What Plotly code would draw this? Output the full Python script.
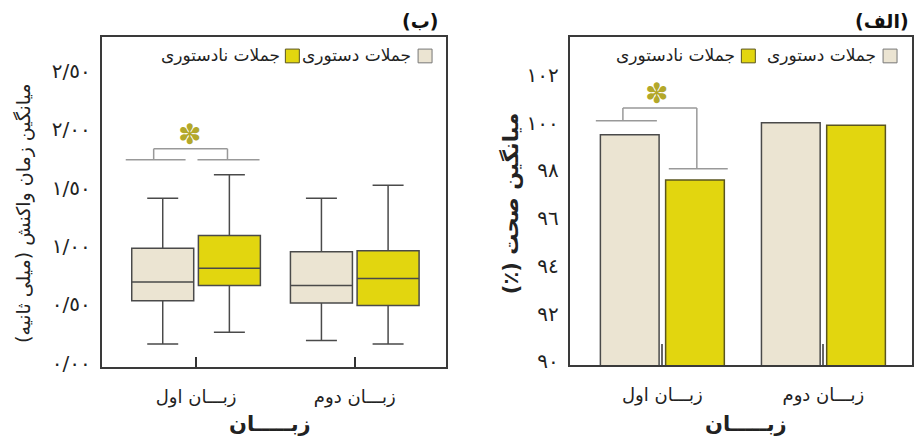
import plotly.graph_objects as go

W, H = 914, 441

# ---------------- data ----------------
categories = ["زبـــان اول", "زبـــان دوم"]
series_names = ["جملات دستوری", "جملات نادستوری"]

# panel (ب): reaction time box plots
rt_gram_q1 = [0.53, 0.51]
rt_gram_median = [0.69, 0.66]
rt_gram_q3 = [0.98, 0.95]
rt_gram_low = [0.16, 0.19]
rt_gram_high = [1.41, 1.41]

rt_ungram_q1 = [0.66, 0.49]
rt_ungram_median = [0.81, 0.72]
rt_ungram_q3 = [1.09, 0.96]
rt_ungram_low = [0.26, 0.16]
rt_ungram_high = [1.61, 1.52]

rt_tickvals = [0.0, 0.5, 1.0, 1.5, 2.0, 2.5]
rt_ticktext = ["٠/٠٠", "٠/٥٠", "١/٠٠", "١/٥٠", "٢/٠٠", "٢/٥٠"]

# panel (الف): accuracy bars
acc_gram = [99.5, 100.0]
acc_ungram = [97.6, 99.9]

acc_tickvals = [90, 92, 94, 96, 98, 100, 102]
acc_ticktext = ["٩٠", "٩٢", "٩٤", "٩٦", "٩٨", "١٠٠", "١٠٢"]

# ---------------- style ----------------
FONT = "DejaVu Sans"
BEIGE = "#ebe4d2"
YELLOW = "#e2d60f"
EDGE = "#4a4a4a"
YEDGE = "#5a5520"
STAR = "#b3a82a"
BRACKET = "#999999"
RLM = "\u200f"


def px(x):
    return x / W


def py(y):
    return 1 - y / H


fig = go.Figure()

# box plots (left panel)
fig.add_trace(go.Box(
    x=categories, q1=rt_gram_q1, median=rt_gram_median, q3=rt_gram_q3,
    lowerfence=rt_gram_low, upperfence=rt_gram_high,
    name=series_names[0], fillcolor=BEIGE, line=dict(color=EDGE, width=1.5),
    whiskerwidth=0.5, boxpoints=False, offsetgroup="a", showlegend=False,
    xaxis="x", yaxis="y"))
fig.add_trace(go.Box(
    x=categories, q1=rt_ungram_q1, median=rt_ungram_median, q3=rt_ungram_q3,
    lowerfence=rt_ungram_low, upperfence=rt_ungram_high,
    name=series_names[1], fillcolor=YELLOW, line=dict(color=EDGE, width=1.5),
    whiskerwidth=0.5, boxpoints=False, offsetgroup="b", showlegend=False,
    xaxis="x", yaxis="y"))

# bars (right panel)
fig.add_trace(go.Bar(
    x=categories, y=acc_gram, name=series_names[0],
    marker=dict(color=BEIGE, line=dict(color=EDGE, width=1.5)),
    offsetgroup="a", showlegend=False, xaxis="x2", yaxis="y2"))
fig.add_trace(go.Bar(
    x=categories, y=acc_ungram, name=series_names[1],
    marker=dict(color=YELLOW, line=dict(color=YEDGE, width=1.5)),
    offsetgroup="b", showlegend=False, xaxis="x2", yaxis="y2"))

axis_line = dict(showline=True, linecolor="#3a3a3a", linewidth=2, mirror=True,
                 showgrid=False, zeroline=False)

fig.update_layout(
    width=W, height=H, autosize=False,
    margin=dict(l=0, r=0, t=0, b=0),
    paper_bgcolor="white", plot_bgcolor="white",
    font=dict(family=FONT, color="#222", size=15),
    boxmode="group", boxgap=0.16, boxgroupgap=0.07,
    barmode="group", bargap=0.19, bargroupgap=0.1,
    xaxis=dict(domain=[px(102), px(447)], range=[-0.594, 1.575], anchor="y",
               ticks="inside", ticklen=10, tickwidth=1.5, tickcolor="#333",
               tickfont=dict(size=18, family=FONT), ticklabelstandoff=12,
               **axis_line),
    yaxis=dict(domain=[py(374), py(38)], range=[-0.04, 2.79], anchor="x",
               tickvals=rt_tickvals, ticktext=rt_ticktext, ticks="",
               tickfont=dict(size=20, family=FONT), ticklabelstandoff=5,
               **axis_line),
    xaxis2=dict(domain=[px(571), 1.0], range=[-0.575, 1.55], anchor="y2",
                ticks="inside", ticklen=21, tickwidth=2, tickcolor="#666",
                tickfont=dict(size=18, family=FONT), ticklabelstandoff=12,
                **axis_line),
    yaxis2=dict(domain=[py(372), py(38)], range=[89.84, 103.58], anchor="x2",
                tickvals=acc_tickvals, ticktext=acc_ticktext, ticks="",
                tickfont=dict(size=20, family=FONT), ticklabelstandoff=5,
                **axis_line),
)

shapes = []
annotations = []


def seg(xref, yref, x0, y0, x1, y1, color=BRACKET, width=1.5):
    shapes.append(dict(type="line", xref=xref, yref=yref, x0=x0, y0=y0,
                       x1=x1, y1=y1, line=dict(color=color, width=width)))


# significance bracket, left panel (positions derived from the data)
lvl1 = max(rt_gram_high[0], rt_ungram_high[0]) + 0.13
lvl2 = lvl1 + 0.095
seg("x", "y", -0.443, lvl1, -0.066, lvl1)
seg("x", "y", 0.009, lvl1, 0.40, lvl1)
seg("x", "y", -0.267, lvl1, -0.267, lvl2)
seg("x", "y", 0.198, lvl1, 0.198, lvl2)
seg("x", "y", -0.267, lvl2, 0.198, lvl2)
annotations.append(dict(xref="x", yref="y", x=-0.04, y=lvl2 + 0.12, text="✽",
                        showarrow=False, font=dict(size=28, color=STAR)))

# significance bracket, right panel
a1 = acc_gram[0] + 0.58
a2 = acc_ungram[0] + 0.47
top = a1 + 0.54
seg("x2", "y2", -0.413, a1, -0.034, a1)
seg("x2", "y2", -0.245, a1, -0.245, top)
seg("x2", "y2", -0.245, top, 0.214, top)
seg("x2", "y2", 0.214, top, 0.214, a2)
seg("x2", "y2", 0.04, a2, 0.406, a2)
annotations.append(dict(xref="x2", yref="y2", x=-0.034, y=top + 0.6, text="✽",
                        showarrow=False, font=dict(size=28, color=STAR)))

# manual RTL legends (square to the right of the text)
legend_specs = [
    # (square left px, text right px, fill, edge, label)
    (419, 414, BEIGE, "#777", series_names[0]),
    (286, 283, YELLOW, YEDGE, series_names[1]),
    (885, 880, BEIGE, "#777", series_names[0]),
    (743, 739, YELLOW, YEDGE, series_names[1]),
]
for sx, tx, fill, edge, lab in legend_specs:
    shapes.append(dict(type="rect", xref="paper", yref="paper",
                       x0=px(sx), x1=px(sx + 14), y0=py(64), y1=py(50),
                       fillcolor=fill, line=dict(color=edge, width=1)))
    annotations.append(dict(xref="paper", yref="paper", x=px(tx), y=py(56),
                            xanchor="right", yanchor="middle", showarrow=False,
                            text=RLM + lab + RLM,
                            font=dict(size=17, family=FONT, color="#222")))

# panel titles
annotations.append(dict(xref="paper", yref="paper", x=px(441), y=py(21),
                        xanchor="right", yanchor="middle", showarrow=False,
                        text="<b>" + RLM + "(ب)" + RLM + "</b>",
                        font=dict(size=19, family=FONT, color="#111")))
annotations.append(dict(xref="paper", yref="paper", x=px(913), y=py(21),
                        xanchor="right", yanchor="middle", showarrow=False,
                        text="<b>" + RLM + "(الف)" + RLM + "</b>",
                        font=dict(size=19, family=FONT, color="#111")))

# y-axis titles
annotations.append(dict(xref="paper", yref="paper", x=px(23), y=py(217),
                        xanchor="center", yanchor="middle", showarrow=False,
                        textangle=-90,
                        text=RLM + "میانگین زمان واکنش (میلی ثانیه)" + RLM,
                        font=dict(size=19, family=FONT, color="#222")))
annotations.append(dict(xref="paper", yref="paper", x=px(511), y=py(207),
                        xanchor="center", yanchor="middle", showarrow=False,
                        textangle=-90,
                        text="<b>" + RLM + "میانگین صحت (٪)" + RLM + "</b>",
                        font=dict(size=21, family=FONT, color="#222")))

# x-axis titles
for cx in (271, 748):
    annotations.append(dict(xref="paper", yref="paper", x=px(cx), y=py(432),
                            xanchor="center", yanchor="middle", showarrow=False,
                            text="<b>زبـــــان</b>",
                            font=dict(size=21, family=FONT, color="#222")))

fig.update_layout(shapes=shapes, annotations=annotations)
fig.write_html(
    "out.html",
    config={"displayModeBar": False},
    post_script="document.body.style.margin='0';document.body.style.overflow='hidden';",
)
